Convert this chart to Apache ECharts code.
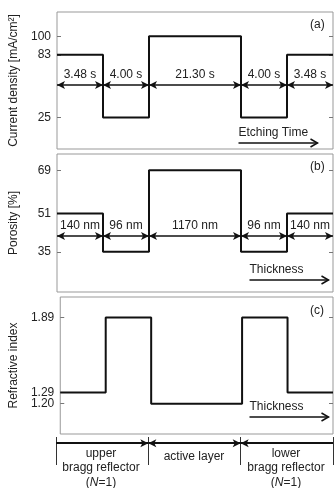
<!DOCTYPE html>
<html>
<head>
<meta charset="utf-8">
<style>
  html, body { margin: 0; padding: 0; background: #fff; }
  #main { width: 335px; height: 488px; }
</style>
<script src="https://cdn.jsdelivr.net/npm/echarts@6/dist/echarts.min.js"></script>
</head>
<body>
<div id="main"></div>
<script>
// layer boundaries along the stack (schematic units, not to scale)
var layerEdges = [0, 1, 2, 4, 5, 6];

var currentLevels = [83, 25, 100, 25, 83];
var currentTicks = [100, 83, 25];
var etchTimes = ['3.48 s', '4.00 s', '21.30 s', '4.00 s', '3.48 s'];

var porosityLevels = [51, 35, 69, 35, 51];
var porosityTicks = [69, 51, 35];
var thicknesses = ['140 nm', '96 nm', '1170 nm', '96 nm', '140 nm'];

var indexLevels = [1.29, 1.89, 1.20, 1.89, 1.29];
var indexTicks = [1.89, 1.29, 1.20];

var regionEdges = [0, 2, 4, 6];

var FONT = 'Liberation Sans, Arial, sans-serif';
var TXT = '#222';
var FRAME = '#999';

function stepData(levels) {
  return layerEdges.map(function (x, i) {
    return [x, levels[Math.min(i, levels.length - 1)]];
  });
}

function arrowSegs(labels, yv) {
  var out = [];
  for (var i = 0; i < labels.length; i++) {
    out.push([{ coord: [layerEdges[i], yv], name: labels[i] },
              { coord: [layerEdges[i + 1], yv] }]);
  }
  return out;
}

function labelStyle(vals, dec) {
  return { customValues: vals, hideOverlap: false, fontFamily: FONT, fontSize: 12,
           color: TXT, margin: 6,
           formatter: function (v) { return dec ? v.toFixed(dec) : String(v); } };
}

function yPair(idx, ticks, min, max, title, gap, dec) {
  var tick = { show: true, inside: true, length: 4, customValues: ticks,
               lineStyle: { color: '#777' } };
  return [{
    type: 'value', gridIndex: idx, position: 'left', min: min, max: max,
    name: title, nameLocation: 'middle', nameGap: gap,
    nameTextStyle: { fontFamily: FONT, fontSize: 12, color: TXT },
    axisLine: { show: false }, splitLine: { show: false },
    axisTick: tick,
    axisLabel: labelStyle(ticks, dec)
  }, {
    type: 'value', gridIndex: idx, position: 'right', min: min, max: max,
    axisLine: { show: false }, splitLine: { show: false },
    axisTick: tick, axisLabel: { show: false }
  }];
}

function xAx(idx) {
  return { type: 'value', gridIndex: idx, min: 0, max: 6, show: false };
}

var stepStyle = { color: '#111', width: 2 };

function arrowMark(labels, yv) {
  return {
    silent: true,
    symbol: ['arrow', 'arrow'],
    symbolSize: [6, 8],
    lineStyle: { color: '#111', width: 1.5, type: 'solid' },
    label: { show: true, position: 'insideMiddleTop', formatter: '{b}', distance: 4,
             fontFamily: FONT, fontSize: 12, color: TXT },
    data: arrowSegs(labels, yv)
  };
}

var chart = echarts.init(document.getElementById('main'));

var regionArrows = [];
var regionSym = [['none', 'arrow'], ['arrow', 'arrow'], ['arrow', 'none']];
for (var r = 0; r < regionEdges.length - 1; r++) {
  regionArrows.push([{ coord: [regionEdges[r], 0.78], symbol: regionSym[r][0] },
                     { coord: [regionEdges[r + 1], 0.78], symbol: regionSym[r][1] }]);
}
var regionSeps = regionEdges.map(function (x) { return { xAxis: x }; });

function dirArrow(label, x, y) {
  return {
    type: 'group', left: x, top: y, silent: true,
    children: [
      { type: 'text', x: 0, y: 0, style: { text: label, font: '12px ' + FONT, fill: TXT } },
      { type: 'line', shape: { x1: 0, y1: 16, x2: 79, y2: 16 }, style: { stroke: '#111', lineWidth: 1.5 } },
      { type: 'polyline', shape: { points: [[72, 12], [79, 16], [72, 20]] }, style: { stroke: '#111', lineWidth: 1.5, fill: null } }
    ]
  };
}

function panelTag(t, y) {
  return { type: 'text', left: 310, top: y, silent: true,
           style: { text: t, font: '12px ' + FONT, fill: TXT } };
}

function regionText(lines, cx, top) {
  return { type: 'text', x: cx, y: top, silent: true,
           style: { text: lines, font: '12px ' + FONT, fill: TXT, align: 'center', lineHeight: 14.5,
                    rich: { i: { fontStyle: 'italic', font: 'italic 12px ' + FONT, fill: TXT } } } };
}

var idxPanel = yPair(2, indexTicks.slice(0, 2), 0.957, 2.054, 'Refractive index', 37, 2);
idxPanel[0].axisTick.customValues = indexTicks;
idxPanel[1].axisTick = idxPanel[0].axisTick;

chart.setOption({
  animation: false,
  grid: [
    { left: 56, right: 2, top: 12, height: 137, show: true, borderColor: FRAME, borderWidth: 1 },
    { left: 56, right: 2, top: 154, height: 138, show: true, borderColor: FRAME, borderWidth: 1 },
    { left: 56, right: 2, top: 297, height: 137, show: true, borderColor: FRAME, borderWidth: 1 },
    { left: 56, right: 2, top: 437, height: 28 }
  ],
  xAxis: [xAx(0), xAx(1), xAx(2), xAx(3)],
  yAxis: [].concat(
    yPair(0, currentTicks, -4, 122.5, 'Current density [mA/cm²]', 37),
    yPair(1, porosityTicks, 18.2, 75.8, 'Porosity [%]', 37),
    idxPanel,
    [{ type: 'value', gridIndex: 3, min: 0, max: 1, show: false }],
    // separate axis so the close 1.20 label is not dropped beside 1.29
    [{ type: 'value', gridIndex: 2, position: 'left', min: 0.957, max: 2.054,
       axisLine: { show: false }, splitLine: { show: false }, axisTick: { show: false },
       axisLabel: labelStyle(indexTicks.slice(2), 2) }]
  ),
  series: [
    { type: 'line', xAxisIndex: 0, yAxisIndex: 0, step: 'end', symbol: 'none',
      lineStyle: stepStyle, data: stepData(currentLevels), markLine: arrowMark(etchTimes, 55) },
    { type: 'line', xAxisIndex: 1, yAxisIndex: 2, step: 'end', symbol: 'none',
      lineStyle: stepStyle, data: stepData(porosityLevels), markLine: arrowMark(thicknesses, 41.6) },
    { type: 'line', xAxisIndex: 2, yAxisIndex: 4, step: 'end', symbol: 'none',
      lineStyle: stepStyle, data: stepData(indexLevels) },
    { type: 'line', xAxisIndex: 3, yAxisIndex: 6, data: [],
      markLine: {
        silent: true, symbol: 'none', symbolSize: [6, 8],
        label: { show: false },
        lineStyle: { color: '#333', width: 1, type: 'solid' },
        data: regionSeps.concat(regionArrows.map(function (seg) {
          return [Object.assign({ lineStyle: { color: '#111', width: 1.8 } }, seg[0]), seg[1]];
        }))
      } }
  ],
  graphic: [
    panelTag('(a)', 19), panelTag('(b)', 161), panelTag('(c)', 305),
    dirArrow('Etching Time', 236, 127),
    dirArrow('Thickness', 247, 264),
    dirArrow('Thickness', 247, 401),
    regionText('upper\nbragg reflector\n({i|N}=1)', 101, 446),
    regionText('active layer', 194, 449),
    regionText('lower\nbragg reflector\n({i|N}=1)', 286, 446)
  ]
});
</script>
</body>
</html>
